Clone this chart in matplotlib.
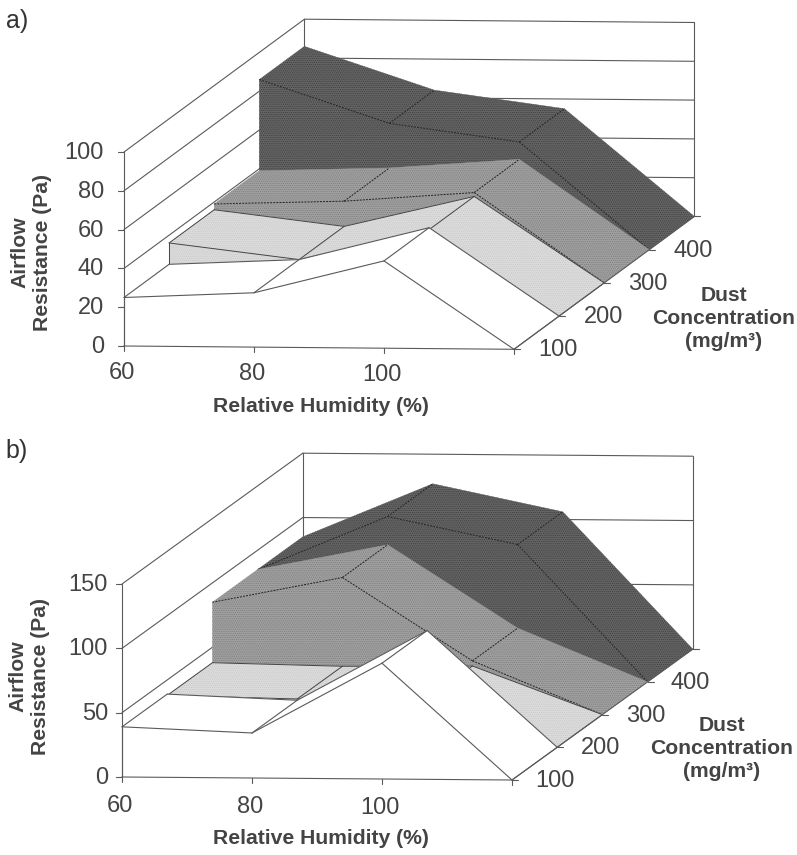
import matplotlib
matplotlib.use("Agg")
import matplotlib.pyplot as plt
from matplotlib.patches import Polygon

plt.rcParams['font.family'] = ['Liberation Sans', 'DejaVu Sans']
plt.rcParams['hatch.linewidth'] = 0.5

# ---------- data ----------
humidity = [60, 80, 100, 120]
humidity_labels = ['60', '80', '100']
concentrations = [100, 200, 300, 400]

a_100 = [25, 28, 45, 0]
a_200 = [36, 28, 44, 0]
a_300 = [39, 41, 46, 0]
a_400 = [86, 64, 55, 0]
a_ticks = [0, 20, 40, 60, 80, 100]

b_100 = [39, 35, 90, 0]
b_200 = [38, 36, 37, 0]
b_300 = [85, 105, 41, 0]
b_400 = [85, 127, 106, 0]
b_ticks = [0, 50, 100, 150]

# ---------- styles ----------
FILLS = ['#ffffff', '#dcdcdc', '#a0a0a0', '#646464']
HATCH = [None, '#c6c6c6', '#7c7c7c', '#3e3e3e']
LINE = '#5a5a5a'
TEXT = '#444444'
W, H = 797, 855

fig = plt.figure(figsize=(W / 100, H / 100), dpi=100)
ax = fig.add_axes([0, 0, 1, 1])
ax.set_xlim(0, W)
ax.set_ylim(H, 0)
ax.axis('off')


def panel(series, ticks, origin, xvec, dvec, zvec, letter, letter_y, ylab_y,
          ytick_right, xlab_y, xtitle_y, dlab_dx, dust_xy, ylab_x):
    zmax = ticks[-1]

    def P(h, d, z):
        t = (h - humidity[0]) / (humidity[-1] - humidity[0])
        return (origin[0] + t * xvec[0] + d * dvec[0],
                origin[1] + t * xvec[1] + d * dvec[1] + z / zmax * zvec)

    def seg(p, q, **kw):
        kw.setdefault('color', LINE)
        kw.setdefault('lw', 0.8)
        ax.plot([p[0], q[0]], [p[1], q[1]], solid_capstyle='round', **kw)

    hL, hR = humidity[0], humidity[-1]
    # walls
    for z in ticks:
        seg(P(hL, 0, z), P(hL, 4, z), zorder=1)
        seg(P(hL, 4, z), P(hR, 4, z), zorder=1)
    seg(P(hL, 4, 0), P(hL, 4, zmax), zorder=1)
    seg(P(hR, 4, 0), P(hR, 4, zmax), zorder=1)

    # series, back to front
    for i in range(3, -1, -1):
        vals = series[i]
        fill, hatch = FILLS[i], HATCH[i]
        z0 = 2 + (3 - i) * 2

        def face(pts, zo):
            ax.add_patch(Polygon(pts, closed=True, facecolor=fill, edgecolor=fill,
                                 lw=0.3, zorder=zo))
            if hatch:
                ax.add_patch(Polygon(pts, closed=True, facecolor='none',
                                     edgecolor=hatch, hatch='........', lw=0, zorder=zo))

        for k in range(3):
            h1, h2 = humidity[k], humidity[k + 1]
            face([P(h1, i, vals[k]), P(h2, i, vals[k + 1]),
                  P(h2, i + 1, vals[k + 1]), P(h1, i + 1, vals[k])], z0)
        front = [P(h, i, v) for h, v in zip(humidity, vals)]
        face(front + [P(hR, i, 0), P(hL, i, 0)], z0)

        style = dict(zorder=z0 + 1)
        if i >= 2:
            style.update(color='#222222', lw=0.7, ls=(0, (2, 1.2)))
        elif i == 1:
            style.update(color='#444444', lw=0.7)
        for k in range(3):
            seg(front[k], front[k + 1], **style)
        for k in range(1, 3):
            seg(P(humidity[k], i, vals[k]), P(humidity[k], i + 1, vals[k]), **style)
        if i < 2:
            back = [P(h, i + 1, v) for h, v in zip(humidity, vals)]
            for k in range(3):
                seg(back[k], back[k + 1], **style)
            seg(front[0], back[0], **style)
            seg(front[-1], back[-1], **style)
            seg(front[0], P(hL, i, 0), **style)

    # axes
    top = 20
    seg(P(hL, 0, 0), P(hL, 0, zmax), zorder=top)
    seg(P(hL, 0, 0), P(hR, 0, 0), zorder=top)
    seg(P(hR, 0, 0), P(hR, 4, 0), zorder=top)
    for z in ticks:
        p = P(hL, 0, z)
        seg((p[0] - 6, p[1]), p, zorder=top)
        ax.text(ytick_right, p[1] + 1, str(z), ha='right', va='center',
                fontsize=17, color=TEXT, zorder=top)
    for h, lab in zip(humidity, humidity_labels + ['']):
        p = P(h, 0, 0)
        seg(p, (p[0], p[1] + 5), zorder=top)
        if lab:
            ax.text(p[0] - 2, xlab_y + (p[1] - origin[1]), lab, ha='center', va='center',
                    fontsize=17, color=TEXT, zorder=top)
    for d in range(5):
        p = P(hR, d, 0)
        seg(p, (p[0] + 6, p[1]), zorder=top)
        if d < 4:
            ax.text(p[0] + dlab_dx, p[1] + 1, str(concentrations[d]), ha='center', va='center',
                    fontsize=17, color=TEXT, zorder=top)

    bold = dict(fontweight='bold', fontsize=15.2, color=TEXT, ha='center', va='center', zorder=top)
    ax.text(321, xtitle_y, 'Relative Humidity (%)', **bold)
    for n, s in enumerate(['Dust', 'Concentration', '(mg/m³)']):
        ax.text(dust_xy[0], dust_xy[1] + 23 * n, s, **bold)
    ax.text(ylab_x, ylab_y, 'Airflow', rotation=90, **bold)
    ax.text(ylab_x + 23, ylab_y, 'Resistance (Pa)', rotation=90, **bold)
    ax.text(17, letter_y, letter, ha='center', va='center', fontsize=18, color='#333333')


panel([a_100, a_200, a_300, a_400], a_ticks, origin=(124, 346), xvec=(390, 3.3),
      dvec=(45.1, -33.2), zvec=-194, letter='a)', letter_y=21, ylab_y=252,
      ytick_right=104, xlab_y=373, xtitle_y=406, dlab_dx=44, dust_xy=(724, 295), ylab_x=20)
panel([b_100, b_200, b_300, b_400], b_ticks, origin=(122, 777), xvec=(390, 3),
      dvec=(45.2, -32.7), zvec=-193, letter='b)', letter_y=451, ylab_y=676,
      ytick_right=108, xlab_y=806, xtitle_y=838, dlab_dx=43, dust_xy=(722, 725), ylab_x=18)

fig.savefig('out.png', dpi=100)
